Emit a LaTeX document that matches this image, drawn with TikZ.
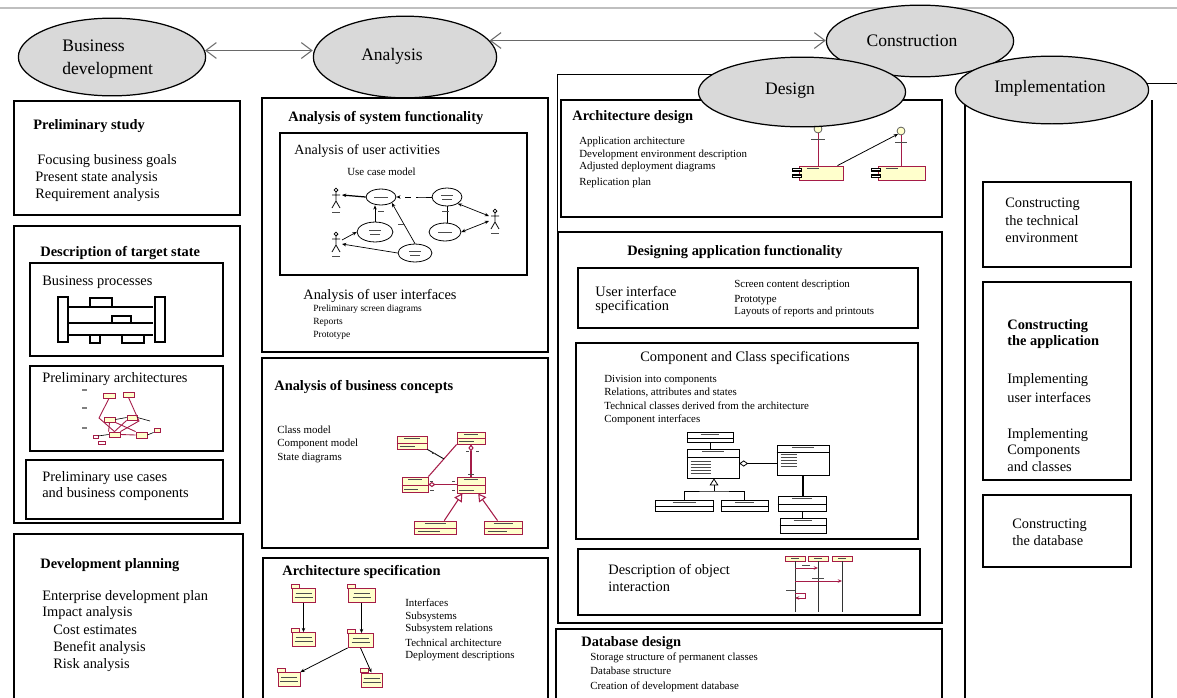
\documentclass[tikz,border=0pt]{standalone}
\usepackage{fontspec}
\setmainfont{Liberation Serif}
\usetikzlibrary{shapes.geometric,arrows.meta,calc}

\definecolor{umlred}{RGB}{165,28,72}
\definecolor{umlyel}{RGB}{255,255,204}
\definecolor{phasefill}{RGB}{217,217,217}
\definecolor{linkgray}{RGB}{105,105,105}

% horizontal compartment line inside a class box
\newcommand\compline[3][umlred]{\draw[#1, line width=0.45pt] ($(#2.north west)!#3!(#2.south west)$) -- ($(#2.north east)!#3!(#2.south east)$);}

\tikzset{
  sz/.style 2 args={minimum width=#1*0.5669pt, minimum height=#2*0.5669pt},
  box/.style={draw=black, line width=1.1pt},
  framethin/.style={draw=black, line width=0.55pt},
  phase/.style={ellipse, draw=black, line width=0.7pt, fill=phasefill, inner sep=0pt},
  phaselbl/.style={inner sep=0pt, font=\fontsize{10}{12}\selectfont},
  txt/.style={anchor=west, inner sep=0pt, font=\fontsize{8.2}{9.8}\selectfont},
  ttl/.style={anchor=west, inner sep=0pt, font=\bfseries\fontsize{8.2}{9.8}\selectfont},
  sm/.style={anchor=west, inner sep=0pt, font=\fontsize{6.2}{7.4}\selectfont},
  xs/.style={anchor=west, inner sep=0pt, font=\fontsize{5.4}{6.4}\selectfont},
  phasearrow/.style={draw=linkgray, line width=0.6pt, {Straight Barb[length=6pt,width=9pt]}-{Straight Barb[length=6pt,width=9pt]}},
  umlbox/.style={draw=umlred, fill=umlyel, line width=0.5pt, inner sep=0pt},
  clsbox/.style={draw=black, fill=white, line width=0.45pt, inner sep=0pt},
  uc/.style={ellipse, draw=black, line width=0.45pt, inner sep=0pt},
  scrib/.style={draw=black!70, line width=0.5pt},
  smarrow/.style={-{Stealth[length=2.4pt,width=2pt]}},
  biarrow/.style={{Stealth[length=2.4pt,width=2pt]}-{Stealth[length=2.4pt,width=2pt]}},
  actor/.pic={
    \draw[line width=0.45pt] (0,-9) circle (1.1pt);
    \draw[line width=0.45pt] (0,-7) -- (0,2) (-4,-4) -- (4,-4) (0,2) -- (-4,9) (0,2) -- (4,9);
  }
}

\begin{document}
\begin{tikzpicture}[x=0.02cm,y=-0.02cm]
\useasboundingbox (0,0) rectangle (1177,697);
\clip (0,0) rectangle (1177,697);
\fill[white] (0,0) rectangle (1177,697);
\draw[gray!50, line width=1.3pt] (0,8) -- (1177,8);

% ================= Business development column
\draw[box] (14,101) rectangle (240,215);
\node[ttl] (ps0) at (33,126) {Preliminary study};
\node[txt] (ps1) at (37,161) {Focusing business goals};
\node[txt] (ps2) at (35,178) {Present state analysis};
\node[txt] (ps3) at (35,195) {Requirement analysis};

\draw[box] (14,226) rectangle (240,523);
\node[ttl] (ts0) at (40,253) {Description of target state};

\draw[box] (30,263) rectangle (223,356);
\node[txt] (bp0) at (42,282) {Business processes};
\draw[line width=0.9pt] (58,297) rectangle (68,342) (155,297) rectangle (165,342);
\draw[line width=0.7pt] (68,307) -- (153,307) (68,323) -- (153,323) (68,335) -- (153,335);
\draw[line width=0.9pt, fill=white] (90,298) rectangle (112,307) (112,316) rectangle (131,323)
  (90,335) rectangle (100,343) (122,335) rectangle (144,343);

\draw[box] (30,366) rectangle (223,451);
\node[txt] (pr0) at (42,379) {Preliminary architectures};
\draw[gray, line width=0.6pt] (82,390) -- (87,390) (82,408) -- (87,408) (82,428) -- (87,428);
\foreach \n/\x/\y/\w/\h in {pa1/109/395.5/12/5, pa2/128.5/394.5/11/5, pa3/109.5/419.5/11/5,
  pa4/132/417.5/10/5, pa5/114.5/434.5/11/5, pa6/141.5/435/11/6, pa7/157/430/6/4}
  \node[umlbox, sz={\w}{\h}] (\n) at (\x,\y) {};
\draw[umlred, line width=0.5pt] (pa1.south) -- (99,418) -- (pa5.north);
\draw[umlred, line width=0.5pt] (pa2.south) -- (139,421) -- (pa5.north east);
\draw[umlred, line width=0.5pt] (pa3.south) -- (pa5.north west);
\draw[umlred, line width=0.5pt] (pa4.south west) -- (pa5.north);
\draw[umlred, line width=0.5pt] (pa3.south east) -- (pa6.north west);
\draw[umlred, line width=0.5pt] (pa5.east) -- (pa6.west);
\draw[black, line width=0.35pt] (pa3.east) -- (pa4.west) (pa4.east) -- (150,421) (pa6.east) -- (pa7.south west);
\draw[umlred, line width=0.5pt] (93,435) rectangle (98,438) (98,441) rectangle (105,444);
\draw[black, line width=0.35pt] (98,436) -- (pa5.west);

\draw[box] (26,460) rectangle (223,519);
\node[txt] (pu1) at (42,478) {Preliminary use cases};
\node[txt] (pu2) at (42,494) {and business components};

\draw[box] (14,534) rectangle (243,705);
\node[ttl] (dp0) at (40,565) {Development planning};
\node[txt] (dp1) at (42,597) {Enterprise development plan};
\node[txt] (dp2) at (42,613) {Impact analysis};
\node[txt] (dp3) at (53,630) {Cost estimates};
\node[txt] (dp4) at (53,648) {Benefit analysis};
\node[txt] (dp5) at (53,665) {Risk analysis};

% ================= Analysis column
\draw[box] (262,98) rectangle (548,352);
\node[ttl] (sf0) at (288,118) {Analysis of system functionality};
\draw[box] (280,133) rectangle (527,275);
\node[txt, font=\fontsize{8}{9.6}\selectfont] (ua0) at (294,151) {Analysis of user activities};
\node[sm] (ua1) at (347,172) {Use case model};

% use case sketch
\node[uc, sz={30}{16}] (u1) at (381,197) {};
\node[uc, sz={30}{18}] (u2) at (447,197) {};
\node[uc, sz={36}{20}] (u3) at (375,232) {};
\node[uc, sz={32}{18}] (u4) at (445,232) {};
\node[uc, sz={34}{18}] (u5) at (415,253) {};
\foreach \n in {u1,u4}
  \draw[scrib, line width=0.45pt] ($(\n.center)+(-7,0)$) -- ($(\n.center)+(7,0)$);
\foreach \n in {u2,u3,u5}
  \draw[scrib, line width=0.45pt] ($(\n.center)+(-6,-2)$) -- ($(\n.center)+(6,-2)$)
    ($(\n.center)+(-5,2)$) -- ($(\n.center)+(5,2)$);
\coordinate (ac1) at (336,199);
\coordinate (ac2) at (336,243);
\coordinate (ac3) at (495,220);
\foreach \a in {ac1,ac2,ac3} {
  \pic at (\a) {actor};
  \draw[scrib, line width=0.4pt] ($(\a)+(-4,13)$) -- ($(\a)+(4,13)$);
}
\draw[line width=0.7pt, smarrow] (u1.west) -- ($(ac1)+(6,-4)$);
\draw[line width=0.4pt, dashed, smarrow] (u2.west) -- (u1.east);
\draw[scrib, line width=0.4pt] (418,197) -- (426,197);
\draw[line width=0.4pt, smarrow] (u3.north) -- (u3.north |- u1.south);
\draw[scrib, line width=0.4pt] (378,211) -- (384,211);
\draw[line width=0.4pt, smarrow] (u5.north) -- (u1.south east);
\draw[scrib, line width=0.4pt] (398,224) -- (405,224);
\draw[line width=0.4pt, smarrow] ($(ac2)+(6,-3)$) -- (u3.west);
\draw[line width=0.4pt, smarrow] (u5.west) -- ($(ac2)+(6,1)$);
\draw[line width=0.4pt] (u2.south) -- (u2.south |- u4.north);
\draw[scrib, line width=0.4pt] (442,211) -- (449,211);
\draw[line width=0.4pt, biarrow] ($(ac3)+(-6,-4)$) -- (u2.south east);
\draw[line width=0.4pt, biarrow] ($(ac3)+(-6,1)$) -- (u4.east);

\node[txt] (ui0) at (303,296) {Analysis of user interfaces};
\node[xs] (ui1) at (313,309) {Preliminary screen diagrams};
\node[xs] (ui2) at (313,322) {Reports};
\node[xs] (ui3) at (313,335) {Prototype};

\draw[box] (262,358) rectangle (548,548);
\node[ttl] (bc0) at (274,387) {Analysis of business concepts};
\node[sm] (bc1) at (277,430) {Class model};
\node[sm] (bc2) at (277,444) {Component model};
\node[sm] (bc3) at (277,458) {State diagrams};
\foreach \n/\x/\y/\w/\h in {cb1/412/442.5/30/13, cb2/471/438/28/12, cb3/415/484.5/26/15,
  cb4/471/485/28/16, cb5/435.5/527.5/43/13, cb6/503.5/527.5/39/13} {
  \node[umlbox, sz={\w}{\h}] (\n) at (\x,\y) {};
  \compline{\n}{0.55}
  \draw[scrib, line width=0.4pt] ($(\n.north west)!0.25!(\n.north east)+(0,3)$) -- ($(\n.north west)!0.75!(\n.north east)+(0,3)$);
  \draw[scrib, line width=0.4pt] ($(\n.south west)!0.1!(\n.south east)+(0,-3)$) -- ($(\n.south west)!0.6!(\n.south east)+(0,-3)$);
}
\draw[umlred, line width=0.6pt] (cb3.north east) -- (cb2.south west);
\draw[black, line width=0.5pt] (cb1.south east) -- ($(cb3.north east)!0.55!(cb2.south west)$);
\draw[umlred, line width=0.6pt, {Diamond[open,length=4pt,width=3pt]}-] (cb2.south) -- (cb2.south |- cb4.north);
\draw[umlred, line width=0.6pt, {Diamond[open,length=4pt,width=3pt]}-] (cb3.east) -- (cb3.east -| cb4.west);
\draw[umlred, line width=0.6pt, -{Triangle[open,length=4.5pt,width=5pt]}]
  ($(cb5.north)!0.4!(cb5.north east)$) -- ($(cb4.south west)!0.2!(cb4.south east)$);
\draw[umlred, line width=0.6pt, -{Triangle[open,length=4.5pt,width=5pt]}]
  ($(cb6.north west)!0.35!(cb6.north east)$) -- ($(cb4.south west)!0.75!(cb4.south east)$);
\draw[scrib, line width=0.4pt] (432,453) -- (436,453) (466,451) -- (469,451) (476,451) -- (479,451)
  (468,474) -- (474,474) (430,481) -- (433,481) (430,490) -- (434,490) (452,481) -- (455,481) (452,490) -- (455,490);

\draw[box] (263,558) rectangle (548,705);
\node[ttl] (as0) at (282,572) {Architecture specification};
\node[sm] (as1) at (405,603) {Interfaces};
\node[sm] (as2) at (405,617) {Subsystems};
\node[sm] (as3) at (405,629) {Subsystem relations};
\node[sm] (as4) at (405,643) {Technical architecture};
\node[sm] (as5) at (405,656) {Deployment descriptions};
\foreach \n/\x/\y/\w in {pk1/303.5/595.5/23, pk2/361.5/595.5/27, pk3/303.5/639.5/23,
  pk4/360.5/640.5/25, pk5/289/679.5/22, pk6/371.5/680/21} {
  \node[umlbox, sz={\w}{14}] (\n) at (\x,\y) {};
  \draw[umlred, fill=umlyel, line width=0.5pt] (\n.north west) rectangle ++(8,-4);
  \draw[scrib, line width=0.4pt] ($(\n.center)+(-8,-2)$) -- ($(\n.center)+(8,-2)$)
    ($(\n.center)+(-9,2)$) -- ($(\n.center)+(9,2)$);
}
\draw[line width=0.45pt, smarrow] (pk1.south) -- (pk3.north);
\draw[line width=0.45pt, smarrow] (pk2.south) -- (pk2.south |- pk4.north);
\draw[line width=0.45pt, smarrow] (pk4.south west) -- (pk5.north east);
\draw[line width=0.45pt, smarrow] (pk4.south) -- (pk6.north);

% ================= Design column
\draw[framethin] (557,232) -- (557,74) -- (760,74);
\draw[box] (561,100) rectangle (942,217);
\node[ttl] (ad0) at (572,117) {Architecture design};
\node[sm] (ad1) at (579,142) {Application architecture};
\node[sm] (ad2) at (579,155) {Development environment description};
\node[sm] (ad3) at (579,167) {Adjusted deployment diagrams};
\node[sm] (ad4) at (579,183) {Replication plan};
\node[circle, draw=black!70, fill=umlyel, line width=0.4pt, minimum size=4.5pt, inner sep=0pt] (if1) at (818,129) {};
\node[circle, draw=black!70, fill=umlyel, line width=0.4pt, minimum size=4.5pt, inner sep=0pt] (if2) at (901,131) {};
\node[umlbox, sz={45}{14}] (cp1) at (821.5,173) {};
\node[umlbox, sz={48}{14}] (cp2) at (902,173) {};
\draw[umlred, line width=0.5pt] (if1.south) -- (if1.south |- cp1.north);
\draw[umlred, line width=0.5pt] (if2.south) -- (if2.south |- cp2.north);
\draw[line width=0.45pt, smarrow] ($(cp1.north)!0.7!(cp1.north east)$) -- (if2.south west);
\foreach \n in {cp1,cp2} {
  \draw[line width=0.7pt, fill=white] ($(\n.west)+(-6,-4.5)$) rectangle ($(\n.west)+(3,-2)$);
  \draw[line width=0.7pt, fill=white] ($(\n.west)+(-6,2)$) rectangle ($(\n.west)+(3,4.5)$);
  \draw[scrib, line width=0.4pt] ($(\n.north west)+(8,3)$) -- ($(\n.north west)+(20,3)$);
}
\draw[scrib, line width=0.4pt] (811,139) -- (825,139) (895,142) -- (907,142);

\draw[box] (558,232) rectangle (942,623);
\node[ttl, anchor=center] (df0) at (735,252) {Designing application functionality};

\draw[box] (578,268) rectangle (918,328);
\node[txt] (is1) at (595,291) {User interface};
\node[txt] (is2) at (595,307) {specification};
\node[sm] (is3) at (734,285) {Screen content description};
\node[sm] (is4) at (734,300) {Prototype};
\node[sm] (is5) at (734,312) {Layouts of reports and printouts};

\draw[box] (576,343) rectangle (918,539);
\node[txt, anchor=center] (cc0) at (745,358) {Component and Class specifications};
\node[sm] (cc1) at (604,380) {Division into components};
\node[sm] (cc2) at (604,393) {Relations, attributes and states};
\node[sm] (cc3) at (604,406) {Technical classes derived from the architecture};
\node[sm] (cc4) at (604,420) {Component interfaces};
\foreach \n/\x/\y/\w/\h/\c in {k0/710/437/46/10/0.6, k1/713/463.5/52/29/0.3, k2/803/460/52/30/0.25,
  k3/802/503.5/48/15/0.55, k4/803/525.5/46/15/0.5, k5/684.5/505.5/59/11/0.6, k6/744.5/505.5/47/11/0.6} {
  \node[clsbox, sz={\w}{\h}] (\n) at (\x,\y) {};
  \compline[black]{\n}{\c}
  \draw[scrib, line width=0.4pt] ($(\n.north west)!0.3!(\n.north east)+(0,2.5)$) -- ($(\n.north west)!0.7!(\n.north east)+(0,2.5)$);
}
\foreach \dy in {4,7,10,13,16}
  \draw[scrib, line width=0.35pt] ($(k1.north west)+(4,9+\dy)$) -- ++(20,0) ($(k2.north west)+(4,6+\dy)$) -- ++(16,0);
\draw[line width=0.45pt] (k0.south) -- (k0.south |- k1.north);
\draw[line width=0.45pt, {Diamond[open,length=5pt,width=3.5pt]}-] (k1.east) -- (k1.east -| k2.west);
\draw[line width=1pt] (k2.south) -- (k2.south |- k3.north);
\draw[line width=0.45pt] (k3.south) -- (k3.south |- k4.north);
\coordinate (gj) at (714,491);
\draw[line width=0.45pt] (k5.north) |- (gj) -| (k6.north);
\draw[line width=0.45pt, -{Triangle[open,length=4pt,width=5pt]}] (gj) -- (gj |- k1.south);

\draw[box] (578,549) rectangle (920,615);
\node[txt] (oi1) at (608,571) {Description of object};
\node[txt] (oi2) at (608,587) {interaction};
\foreach \n/\x in {s1/795, s2/818, s3/842} {
  \node[umlbox, sz={20}{5}] (\n) at (\x,558.5) {};
  \draw[scrib, line width=0.35pt] ($(\n.center)+(-4,0)$) -- ($(\n.center)+(4,0)$);
}
\coordinate (seqend) at (0,612);
\foreach \n in {s1,s2,s3}
  \draw[line width=0.5pt, black!80] (\n.south) -- (\n.south |- seqend);
\coordinate (m1) at (0,568);
\coordinate (m2) at (0,581);
\coordinate (m3) at (0,593);
\draw[umlred, line width=0.45pt, smarrow] (s1.south |- m1) -- (s2.south |- m1);
\draw[umlred, line width=0.45pt, smarrow] (s1.south |- m2) -- (s3.south |- m2);
\draw[umlred, line width=0.45pt, smarrow] (s1.south |- m3) -- ++(10,0) -- ++(0,5) -- ++(-10,0);
\draw[scrib, line width=0.35pt] (802,565) -- (810,565) (812,578) -- (824,578) (786,590) -- (795,590);

\draw[box] (556,629) rectangle (942,705);
\node[ttl] (db0) at (581,643) {Database design};
\node[sm] (db1) at (590,658) {Storage structure of permanent classes};
\node[sm] (db2) at (590,671) {Database structure};
\node[sm] (db3) at (590,687) {Creation of development database};

% ================= Implementation column
\draw[box] (965,100) -- (965,705) (1152,100) -- (1152,705);
\draw[box] (983,182) rectangle (1131,267);
\node[txt] (ce1) at (1005,204) {Constructing};
\node[txt] (ce2) at (1005,221) {the technical};
\node[txt] (ce3) at (1005,238) {environment};
\draw[box] (983,282) rectangle (1131,480);
\node[ttl] (ca1) at (1007,326) {Constructing};
\node[ttl] (ca2) at (1007,342) {the application};
\node[txt] (ca3) at (1007,380) {Implementing};
\node[txt] (ca4) at (1007,397) {user interfaces};
\node[txt] (ca5) at (1007,435) {Implementing};
\node[txt] (ca6) at (1007,451) {Components};
\node[txt] (ca7) at (1007,467) {and classes};
\draw[box] (983,495) rectangle (1131,567);
\node[txt] (cd1) at (1012,525) {Constructing};
\node[txt] (cd2) at (1012,541) {the database};

% ================= phases
\node[phase, sz={188}{78}] (bd) at (112,57) {};
\node[phase, sz={184}{82}] (an) at (405,57) {};
\node[phase, sz={188}{72}] (co) at (920,41) {};
\node[phase, sz={208}{70}] (de) at (802,92) {};
\node[phase, sz={194}{68}] (im) at (1052,90) {};
\node[phaselbl, anchor=west] (bdl1) at (62,46) {Business};
\node[phaselbl, anchor=west] (bdl2) at (62,70) {development};
\node[phaselbl] (anl) at (392,56) {Analysis};
\node[phaselbl] (col) at (912,41) {Construction};
\node[phaselbl] (del) at (790,91) {Design};
\node[phaselbl] (iml) at (1050,88) {Implementation};

\draw[phasearrow] (bd.4) -- (bd.4 -| an.west);
\draw[phasearrow] (an.11) -- (an.11 -| co.west);
\coordinate (rightedge) at (1177,83);
\draw[framethin] (im.4) -- (im.4 -| rightedge);
\end{tikzpicture}
\end{document}
